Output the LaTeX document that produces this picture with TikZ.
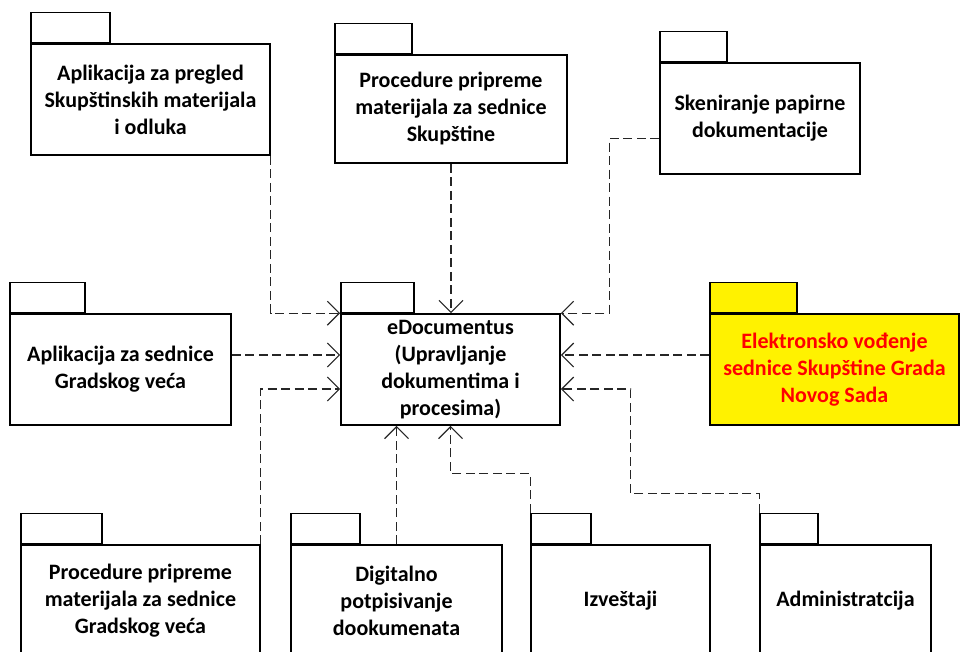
\documentclass[tikz,border=0pt]{standalone}
\usepackage{fontspec}
\setmainfont{Carlito}
\usetikzlibrary{arrows.meta}

\tikzset{
  pkg/.style={draw, line width=1.6pt, align=center, inner sep=0pt,
    font=\bfseries\fontsize{22}{27}\selectfont},
  pkgtab/.style={draw, line width=1.6pt, anchor=south west, inner sep=0pt,
    minimum height=30pt},
  dep/.style={line width=1.2pt, draw=black!85, dash pattern=on 9pt off 4.5pt,
    -{Straight Barb[length=12pt,width=24pt]}},
}

\begin{document}
\begin{tikzpicture}[x=1pt,y=-1pt]
  \clip (0,0) rectangle (960,651);

  % top row
  \node[pkg, minimum width=239pt, minimum height=111pt] (pregled) at (150.5,99.5)
    {Aplikacija za pregled\\Skup\v{s}tinskih materijala\\i odluka};
  \node[pkgtab, minimum width=79pt] (pregledtab) at (pregled.north west) {};

  \node[pkg, minimum width=232pt, minimum height=108pt] (sedskup) at (451,109)
    {Procedure pripreme\\materijala za sednice\\Skup\v{s}tine};
  \node[pkgtab, minimum width=77pt] (sedskuptab) at (sedskup.north west) {};

  \node[pkg, minimum width=200pt, minimum height=111pt] (sken) at (760,118.5)
    {Skeniranje papirne\\dokumentacije};
  \node[pkgtab, minimum width=67pt] (skentab) at (sken.north west) {};

  % middle row
  \node[pkg, minimum width=221pt, minimum height=111pt] (sedveca) at (120.5,369.5)
    {Aplikacija za sednice\\Gradskog ve\'ca};
  \node[pkgtab, minimum width=75pt] (sedvecatab) at (sedveca.north west) {};

  \node[pkg, minimum width=219pt, minimum height=111pt] (edoc) at (450.5,369.5)
    {eDocumentus\\(Upravljanje\\dokumentima i\\procesima)};
  \node[pkgtab, minimum width=73pt] (edoctab) at (edoc.north west) {};

  \node[pkg, fill=yellow, text=red, minimum width=249pt, minimum height=111pt] (elek) at (834.5,369.5)
    {Elektronsko vo\dj enje\\sednice Skup\v{s}tine Grada\\Novog Sada};
  \node[pkgtab, fill=yellow, minimum width=87pt] (elektab) at (elek.north west) {};

  % bottom row
  \node[pkg, minimum width=239pt, minimum height=112pt] (procveca) at (140.5,601)
    {Procedure pripreme\\materijala za sednice\\Gradskog ve\'ca};
  \node[pkgtab, minimum width=81pt] (procvecatab) at (procveca.north west) {};

  \node[pkg, minimum width=211pt, minimum height=112pt] (potpis) at (396.5,601)
    {Digitalno\\potpisivanje\\dookumenata};
  \node[pkgtab, minimum width=69pt] (potpistab) at (potpis.north west) {};

  \node[pkg, minimum width=179pt, minimum height=112pt] (izv) at (620.5,601)
    {Izve\v{s}taji};
  \node[pkgtab, minimum width=60pt] (izvtab) at (izv.north west) {};

  \node[pkg, minimum width=171pt, minimum height=112pt] (admin) at (845.5,601)
    {Administratcija};
  \node[pkgtab, minimum width=58pt] (admintab) at (admin.north west) {};

  % dependencies
  \draw[dep] (pregled.south east) |- (edoc.north west);
  \draw[dep] (sedskup.south) -- (sedskup.south |- edoc.north);
  \draw[dep] ([yshift=-20pt]sken.west) -- ++(-50,0) |- (edoc.north east);
  \draw[dep] ([yshift=14.5pt]sedveca.east) -- ([yshift=14.5pt]edoc.west);
  \draw[dep] ([yshift=14.5pt]elek.west) -- ([yshift=14.5pt]edoc.east);
  \draw[dep] (procveca.north east) |- ([yshift=-19.5pt]edoc.west);
  \draw[dep] (potpis.north) -- (potpis.north |- edoc.south);
  \draw[dep] (izvtab.north west) -- ++(0,-39) -| (edoc.south);
  \draw[dep] (admintab.north west) -- ++(0,-19) -| ([xshift=70pt,yshift=-19.5pt]edoc.east)
    -- ([yshift=-19.5pt]edoc.east);
\end{tikzpicture}
\end{document}
